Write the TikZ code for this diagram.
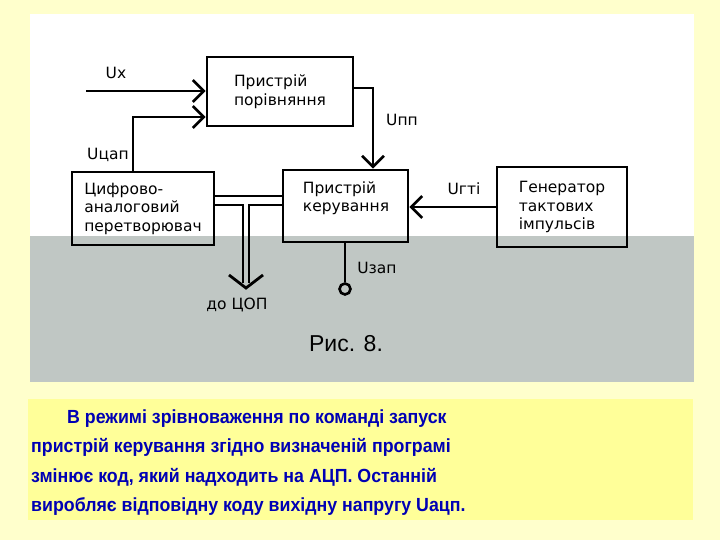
\documentclass[tikz,border=0pt]{standalone}
\usepackage{fontspec}
\setmainfont{Liberation Sans}
\newfontfamily\diagfont{DejaVu Sans}
\newfontfamily\parfont[FakeStretch=0.935]{Liberation Sans}
\usetikzlibrary{arrows.meta}
\definecolor{bgyellow}{RGB}{255,255,204}
\definecolor{boxyellow}{RGB}{255,255,153}
\definecolor{panelgrey}{RGB}{192,199,196}
\definecolor{partext}{RGB}{0,0,180}
\begin{document}
\begin{tikzpicture}[x=1pt,y=-1pt,
  blk/.style={draw,line width=2.8pt,inner sep=0pt,align=left,font=\diagfont\fontsize{15.5}{18.5}\selectfont},
  lbl/.style={font=\diagfont\fontsize{15.5}{18}\selectfont,inner sep=0pt},
  wire/.style={line width=2.8pt},
  arr/.style={line width=2.8pt,-{Straight Barb[length=11pt,width=22pt,line width=2.6pt]}},
  partxt/.style={anchor=base west,inner sep=0pt,text=partext,font=\parfont\bfseries\fontsize{19}{29}\selectfont}
]
\useasboundingbox (0,0) rectangle (720,540);
\fill[bgyellow] (0,0) rectangle (720,540);
\fill[white] (30,14) rectangle (694,236);
\fill[panelgrey] (30,236) rectangle (694,382);
\fill[boxyellow] (28,399) rectangle (693,520);

% blocks
\node[blk,minimum width=146pt,minimum height=69pt] (cmp) at (280,91.5) {Пристрій\\порівняння};
\node[blk,minimum width=142pt,minimum height=73pt] (dac) at (143,208.5) {Цифрово-\\аналоговий\\перетворювач};
\node[blk,minimum width=125pt,minimum height=72pt] (ctl) at (345.5,206) {};
\node[lbl,align=left,font=\diagfont\fontsize{15.5}{18.5}\selectfont] (ctltxt) at (346,198) {Пристрій\\керування};
\node[blk,minimum width=130pt,minimum height=80pt] (gen) at (562,207) {Генератор\\тактових\\імпульсів};

% coordinates
\coordinate (uxs) at (86,91);
\coordinate (cap) at (133,117);
\coordinate (pp) at (373,88);
\coordinate (bus1) at (0,196);
\coordinate (b2l) at (243,205);
\coordinate (b2r) at (249,205);
\coordinate (b2le) at (243,283);
\coordinate (b2re) at (249,283);
\coordinate (vl) at (229,275);
\coordinate (vt) at (246,288);
\coordinate (vr) at (263,275);
\node[draw,circle,line width=2.6pt,minimum size=11pt,inner sep=0pt] (zapc) at (345,289) {};

% connectors
\draw[arr] (uxs) -- (uxs -| cmp.west);
\draw[arr] (dac.north -| cap) -- (cap) -- (cap -| cmp.west);
\draw[arr] (pp -| cmp.east) -- (pp) -- (pp |- ctl.north);
\draw[arr] (gen.west) -- (gen.west -| ctl.east);
\draw[wire] (ctl.south -| zapc) -- (zapc.north);
\draw[wire] (bus1 -| dac.east) -- (bus1 -| ctl.west);
\draw[wire] (b2l -| dac.east) -- (b2l) -- (b2le);
\draw[wire] (b2r -| ctl.west) -- (b2r) -- (b2re);
\draw[wire] (vl) -- (vt) -- (vr);

% labels
\node[lbl] (lux) at (116,73) {Ux};
\node[lbl] (lcap) at (108,155) {Uцап};
\node[lbl] (lpp) at (402,120) {Uпп};
\node[lbl] (lgti) at (464,189) {Uгті};
\node[lbl] (lzap) at (377,268) {Uзап};
\node[lbl] (lcop) at (237,305) {до ЦОП};
\node[font=\fontsize{23}{26}\selectfont,inner sep=0pt] (fig) at (346,344) {Рис. 8.};

% paragraph
\node[partxt] (p1) at (67,423) {В режимі зрівноваження по команді запуск};
\node[partxt] (p2) at (31,452.5) {пристрій керування згідно визначеній програмі};
\node[partxt] (p3) at (31,482) {змінює код, який надходить на АЦП. Останній};
\node[partxt] (p4) at (31,511) {виробляє відповідну коду вихідну напругу Uацп.};
\end{tikzpicture}
\end{document}
